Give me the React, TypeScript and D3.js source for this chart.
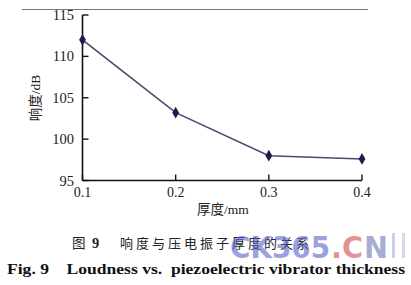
import React from "react";
import * as d3 from "d3";

const thickness = [0.1, 0.2, 0.3, 0.4];
const loudness = [112.0, 103.2, 98.0, 97.6];
const xTicks = [0.1, 0.2, 0.3, 0.4];
const yTicks = [95, 100, 105, 110, 115];
const xTitleCn = "厚度";
const xTitleUnit = "/mm";
const yTitleCn = "响度";
const yTitleUnit = "/dB";
const captionCn = "响度与压电振子厚度的关系";
const captionEn = "Loudness vs.  piezoelectric vibrator thickness";

export default function App() {
  const W = 411, H = 285;
  const x = d3.scaleLinear().domain([0.1, 0.4]).range([82.5, 362]);
  const y = d3.scaleLinear().domain([95, 115]).range([180.5, 15]);
  const line = d3.line<number>().x((_, i) => x(thickness[i])).y((d) => y(d));
  const serif = "'Liberation Serif', 'DejaVu Serif', serif";
  const cjk = "'Noto Sans CJK SC', sans-serif";
  const diamond = d3.symbol().type(d3.symbolDiamond).size(40)();
  return (
    <svg width={W} height={H} style={{ position: "absolute", left: 0, top: 0, background: "#fff" }}>
      <rect width={W} height={H} fill="#fff" />
      <line x1={22} x2={368} y1={9.5} y2={9.5} stroke="#777" strokeWidth={1.2} />
      {/* axes */}
      <line x1={x(0.1)} x2={x(0.1)} y1={y(115)} y2={y(95)} stroke="#111" strokeWidth={1.6} />
      <line x1={x(0.1)} x2={x(0.4)} y1={y(95)} y2={y(95)} stroke="#111" strokeWidth={1.6} />
      {yTicks.map((t) => (
        <g key={t}>
          <line x1={x(0.1)} x2={x(0.1) + 6} y1={y(t)} y2={y(t)} stroke="#111" strokeWidth={1.4} />
          <text x={74} y={y(t) + 5} textAnchor="end" fontFamily={serif} fontSize={14.5} fill="#222">{t}</text>
        </g>
      ))}
      {xTicks.map((t) => (
        <g key={t}>
          <line x1={x(t)} x2={x(t)} y1={y(95)} y2={y(95) - 6} stroke="#111" strokeWidth={1.4} />
          <text x={x(t)} y={197} textAnchor="middle" fontFamily={serif} fontSize={14} fill="#222">{t.toFixed(1)}</text>
        </g>
      ))}
      <text x={223} y={214} textAnchor="middle" fontSize={13.5} fill="#222">
        <tspan fontFamily={cjk}>{xTitleCn}</tspan><tspan fontFamily={serif}>{xTitleUnit}</tspan>
      </text>
      <text transform={`translate(40,98) rotate(-90)`} textAnchor="middle" fontSize={13.5} fill="#222">
        <tspan fontFamily={cjk}>{yTitleCn}</tspan><tspan fontFamily={serif}>{yTitleUnit}</tspan>
      </text>
      <path d={line(loudness) || ""} fill="none" stroke="#4a4a6a" strokeWidth={1.6} />
      {loudness.map((v, i) => (
        <path key={i} d={diamond || ""} transform={`translate(${x(thickness[i])},${y(v)})`} fill="#1c1c50" />
      ))}
      {/* captions */}
      <text x={72} y={248} fontSize={13.5} fill="#222" fontFamily={cjk}>图</text>
      <text x={92} y={248} fontSize={14.5} fill="#222" fontFamily={serif} fontWeight="bold">9</text>
      <text x={120} y={248} fontSize={13} fill="#222" fontFamily={cjk} letterSpacing={3}>{captionCn}</text>
      {/* watermark */}
      <g fontFamily="'DejaVu Sans', sans-serif" fontWeight="bold" fontSize={30}>
        <text x={230} y={258} fill="#5b5fc8" fillOpacity={0.6} textLength={100} lengthAdjust="spacingAndGlyphs">CK365</text>
        <text x={331} y={258} fill="#d04848" fillOpacity={0.6} textLength={32} lengthAdjust="spacingAndGlyphs">.C</text>
        <text x={364} y={258} fill="#6a74b8" fillOpacity={0.6} textLength={24} lengthAdjust="spacingAndGlyphs">N</text>
        <rect x={392} y={233} width={3} height={25} fill="#9aa0c8" opacity={0.5} />
        <rect x={402} y={233} width={3} height={25} fill="#9aa0c8" opacity={0.4} />
      </g>
      <text x={7} y={274} fontFamily={serif} fontWeight="bold" fontSize={14.5} fill="#111" textLength={398} lengthAdjust="spacingAndGlyphs">
        Fig. 9{"\u00a0\u00a0\u00a0\u00a0"}{captionEn.replace(/ /g, "\u00a0")}
      </text>
    </svg>
  );
}
